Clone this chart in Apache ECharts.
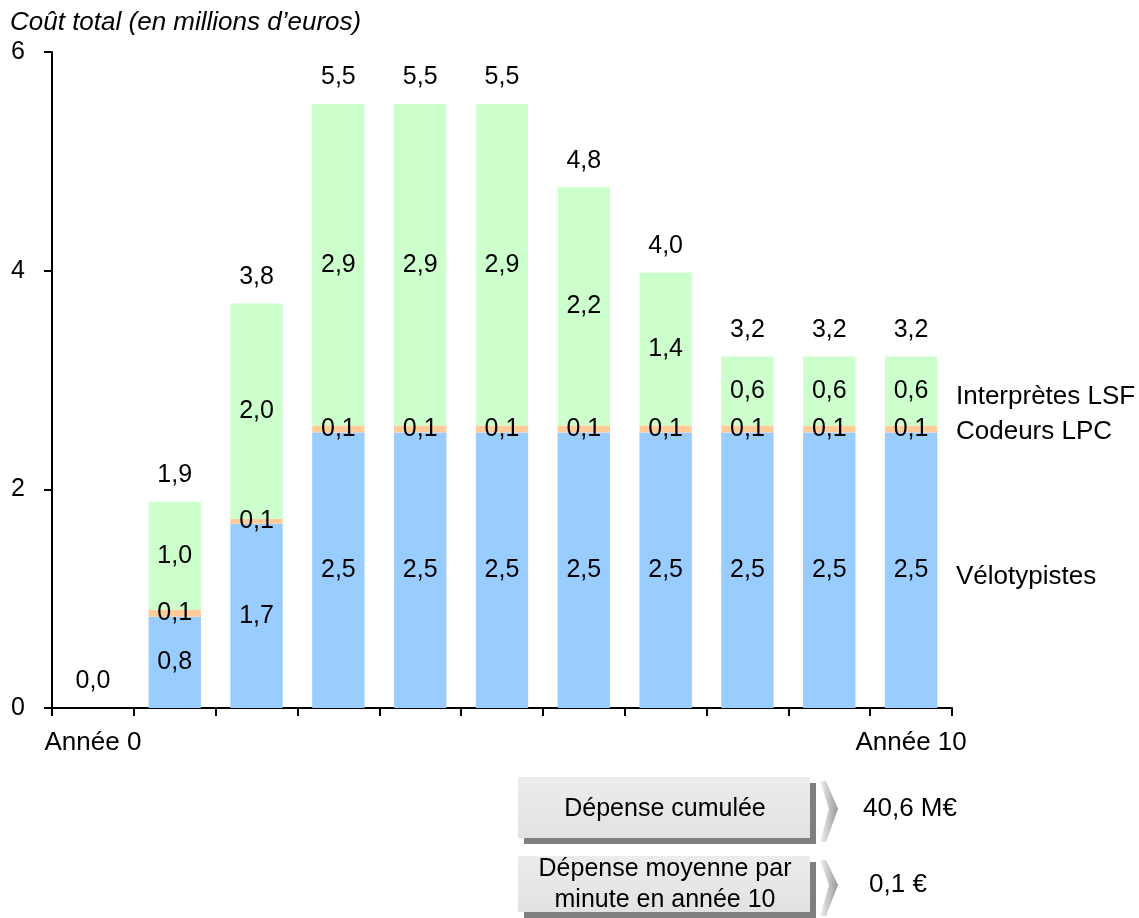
<!DOCTYPE html>
<html><head><meta charset="utf-8">
<script src="https://cdn.jsdelivr.net/npm/echarts@6/dist/echarts.min.js"></script>
<style>html,body{margin:0;padding:0;background:#fff}#c{width:1139px;height:918px}</style>
</head><body><div id="c"></div>
<script>
const categories = ['Année 0','Année 1','Année 2','Année 3','Année 4','Année 5','Année 6','Année 7','Année 8','Année 9','Année 10'];
const velotypistes = [0, 0.835, 1.686, 2.52, 2.52, 2.52, 2.52, 2.52, 2.52, 2.52, 2.52];
const codeursLPC   = [0, 0.062, 0.043, 0.064, 0.064, 0.064, 0.064, 0.064, 0.064, 0.064, 0.064];
const interpretes  = [0, 0.99, 1.97, 2.94, 2.94, 2.94, 2.18, 1.40, 0.63, 0.63, 0.63];
const velotypistesLabels = ['', '0,8', '1,7', '2,5', '2,5', '2,5', '2,5', '2,5', '2,5', '2,5', '2,5'];
const codeursLabels      = ['', '0,1', '0,1', '0,1', '0,1', '0,1', '0,1', '0,1', '0,1', '0,1', '0,1'];
const interpretesLabels  = ['', '1,0', '2,0', '2,9', '2,9', '2,9', '2,2', '1,4', '0,6', '0,6', '0,6'];
const totalLabels        = ['0,0', '1,9', '3,8', '5,5', '5,5', '5,5', '4,8', '4,0', '3,2', '3,2', '3,2'];
const yTicks = [0, 2, 4, 6];
const seriesNames = ['Vélotypistes', 'Codeurs LPC', 'Interprètes LSF'];
const summaryLabels = ['Dépense cumulée', 'Dépense moyenne par\nminute en année 10'];
const summaryValues = ['40,6 M€', '0,1 €'];

const totals = categories.map((_, i) => velotypistes[i] + codeursLPC[i] + interpretes[i]);
const FONT = '"Liberation Sans", Arial, Helvetica, sans-serif';
const chart = echarts.init(document.getElementById('c'), null, {renderer: 'canvas'});

function segLabel(arr) {
  return {
    show: true, position: 'inside', color: '#000', fontFamily: FONT, fontSize: 25,
    formatter: p => arr[p.dataIndex]
  };
}

function box(y, h, text, value, cy, vx) {
  return [
    {type: 'rect', shape: {x: 518, y: y, width: 292, height: h},
     style: {fill: new echarts.graphic.LinearGradient(0,0,0,1,[{offset:0,color:'#ececec'},{offset:1,color:'#e2e2e2'}]),
             shadowColor: '#7f7f7f', shadowOffsetX: 6, shadowOffsetY: 6, shadowBlur: 0}},
    {type: 'text', x: 665, y: cy, style: {text: text, fill: '#000', font: '25px ' + FONT, align: 'center', verticalAlign: 'middle', lineHeight: 31}},
    {type: 'polygon', shape: {points: [[820, y + 4], [826, y + 4], [838, cy], [826, y + h + 4], [820, y + h + 4], [829, cy]]},
     style: {fill: new echarts.graphic.LinearGradient(0,0,1,0,[{offset:0,color:'#f2f2f2'},{offset:1,color:'#969696'}])}},
    {type: 'text', x: vx, y: cy, style: {text: value, fill: '#000', font: '26px ' + FONT, align: 'center', verticalAlign: 'middle'}}
  ];
}

chart.setOption({
  animation: false,
  backgroundColor: '#fff',
  textStyle: {fontFamily: FONT},
  grid: {left: 52, right: 187, top: 52, bottom: 210, containLabel: false},
  xAxis: {
    type: 'category', data: categories,
    axisLine: {show: true, lineStyle: {color: '#000', width: 2}},
    axisTick: {show: true, interval: 0, length: 8, lineStyle: {color: '#000', width: 2}},
    axisLabel: {color: '#000', fontSize: 26, fontFamily: FONT, margin: 22,
      interval: (i) => i === 0 || i === categories.length - 1},
    splitLine: {show: false}
  },
  yAxis: {
    type: 'value', min: yTicks[0], max: yTicks[yTicks.length - 1], interval: 2,
    axisLine: {show: true, lineStyle: {color: '#000', width: 2}},
    axisTick: {show: true, length: 8, lineStyle: {color: '#000', width: 2}},
    axisLabel: {color: '#000', fontSize: 25, fontFamily: FONT, margin: 27, align: 'right', verticalAlign: 'middle'},
    splitLine: {show: false}
  },
  series: [
    {name: seriesNames[0], type: 'bar', stack: 'c', data: velotypistes, barCategoryGap: '36%',
     itemStyle: {color: '#99CCFF'}, label: segLabel(velotypistesLabels)},
    {name: seriesNames[1], type: 'bar', stack: 'c', data: codeursLPC,
     itemStyle: {color: '#FFCC99'}, label: segLabel(codeursLabels)},
    {name: seriesNames[2], type: 'bar', stack: 'c', data: interpretes,
     itemStyle: {color: '#CCFFCC'}, label: segLabel(interpretesLabels)},
    {name: 'Total', type: 'bar', data: totals, barGap: '-100%', z: 1,
     itemStyle: {color: 'rgba(0,0,0,0)'},
     label: {show: true, position: 'top', distance: 14, color: '#000', fontSize: 25, fontFamily: FONT,
       formatter: p => totalLabels[p.dataIndex]}}
  ],
  graphic: [
    {type: 'text', left: 10, top: 10, style: {text: 'Coût total (en millions d’euros)', fill: '#000', font: 'italic 26px ' + FONT}},
    {type: 'text', x: 956, y: 397, style: {text: seriesNames[2], fill: '#000', font: '26px ' + FONT, verticalAlign: 'middle'}},
    {type: 'text', x: 956, y: 432, style: {text: seriesNames[1], fill: '#000', font: '26px ' + FONT, verticalAlign: 'middle'}},
    {type: 'text', x: 956, y: 577, style: {text: seriesNames[0], fill: '#000', font: '26px ' + FONT, verticalAlign: 'middle'}},
    ...box(777, 61, summaryLabels[0], summaryValues[0], 809, 910),
    ...box(856, 56, summaryLabels[1], summaryValues[1], 885, 898)
  ]
});
</script></body></html>
